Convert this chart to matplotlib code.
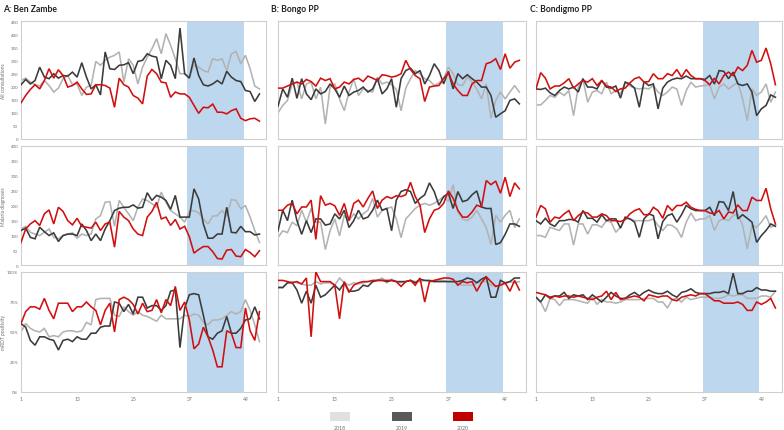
import matplotlib
matplotlib.use("Agg")
import matplotlib.pyplot as plt
from matplotlib.patches import Rectangle

plt.rcParams['font.family'] = ['Lato', 'DejaVu Sans']

weeks = list(range(1, 53))
x_ticks = [1, 13, 25, 37, 49]
years = ["2018", "2019", "2020"]
panel_titles = ["A: Ben Zambe", "B: Bongo PP", "C: Bondigmo PP"]
row_labels = ["All consultations", "Malaria diagnoses", "mRDT positivity"]

# ---- A: Ben Zambe ----
a1_2018 = [223,232,217,207,202,223,204,179,194,230, 242,207,210,166,198,204,296,281,300,312,
           319,332,217,306,281,210,274,312,344,383, 325,402,357,306,249,249,236,281,274,261,
           255,306,300,306,261,325,334,287,319,268, 202,191]
a1_2019 = [207,227,210,223,274,236,230,249,232,242, 240,255,236,291,236,191,207,168,332,268,
           265,281,283,291,249,296,300,325,316,312, 230,300,281,230,423,249,232,309,242,207,
           202,210,223,210,258,236,223,219,185,181, 143,172]
a1_2020 = [138,166,189,207,191,223,268,232,264,242, 198,204,217,191,170,172,207,207,204,194,
           121,232,207,198,166,156,134,240,265,249, 217,214,159,179,172,172,159,128,98,121,
           119,133,102,102,96,108,115,79,70,77, 79,68]

a2_2018 = [121,130,110,104,99,110,121,93,88,99, 104,108,90,104,99,104,155,166,211,213,
           130,217,194,172,149,194,222,217,206,194, 245,211,183,172,161,144,180,183,175,155,
           138,164,166,183,164,220,217,189,200,161, 116,76]
a2_2019 = [116,124,93,88,127,112,99,108,79,99, 104,104,99,138,116,82,104,82,121,149,
           183,191,194,194,202,191,194,243,217,234, 228,217,187,234,161,161,161,256,222,138,
           90,90,104,104,194,110,108,130,112,112, 101,104]
a2_2020 = [76,121,138,149,133,172,185,138,194,180, 149,135,157,130,127,124,144,116,138,144,
           60,180,161,149,121,104,99,161,180,211, 155,161,133,153,121,130,95,40,52,62,
           62,45,22,20,50,52,30,28,52,42, 28,48]

a3_2018 = [50,57,53,51,50,53,46,47,46,50, 51,51,50,51,58,56,77,78,78,78,
           64,63,71,67,64,67,64,63,61,59, 64,61,61,61,61,64,63,65,64,58,
           56,60,60,61,64,67,65,67,77,68, 56,42]
a3_2019 = [57,54,43,39,46,46,44,43,35,43, 44,42,46,44,44,49,49,54,55,55,
           75,74,67,73,65,79,79,70,72,72, 68,72,84,85,37,70,81,82,81,64,
           46,44,49,51,63,49,49,53,60,61, 71,61]
a3_2020 = [57,67,71,71,69,78,68,61,74,74, 74,67,71,71,75,71,68,56,68,74,
           50,77,79,77,73,65,74,67,68,77, 66,77,72,88,68,75,60,36,40,54,
           46,35,21,21,51,49,37,37,70,51, 43,67]

# ---- B: Bongo PP ----
b1_2018 = [99,128,147,210,217,153,210,217,153,198, 57,198,210,153,108,179,230,166,191,185,
           179,236,210,217,207,189,108,194,230,261, 249,230,223,204,213,230,274,249,207,204,
           236,217,191,153,210,79,147,179,153,179, 204,179]
b1_2019 = [125,191,159,232,155,230,172,150,191,172, 181,210,191,159,202,166,179,185,198,179,
           191,230,172,191,230,121,230,261,270,249, 261,210,242,287,261,210,258,191,249,230,
           245,230,217,198,198,166,83,96,108,147, 153,134]
b1_2020 = [194,194,202,210,217,210,227,219,202,232, 223,230,191,198,217,210,227,232,219,240,
           232,223,245,242,236,240,249,300,265,242, 230,143,198,202,204,230,253,210,185,166,
           166,210,223,223,287,293,306,265,325,270, 293,300]

b2_2018 = [92,115,109,144,132,184,144,190,144,144, 52,115,155,98,167,149,172,155,172,184,
           224,161,184,190,195,155,92,155,172,190, 201,207,201,207,218,230,213,270,178,155,
           149,161,184,155,126,69,167,144,167,184, 126,155]
b2_2019 = [115,184,149,218,149,103,149,109,155,155, 134,138,172,155,184,126,149,184,155,161,
           184,218,184,190,115,218,247,253,247,207, 224,236,276,247,201,230,241,190,247,213,
           218,236,249,195,190,190,69,75,103,138, 138,130]
b2_2020 = [184,184,201,207,172,195,195,218,86,233, 201,207,199,167,207,149,207,218,195,224,
           249,190,218,230,224,233,230,236,278,230, 201,109,155,184,190,207,249,224,184,161,
           161,178,201,195,284,270,282,241,295,230, 276,256]

b3_2018 = [88,87,91,92,91,90,89,89,92,90, 91,91,89,95,91,89,91,90,91,92,
           92,93,95,91,94,92,91,92,93,92, 92,93,92,92,93,93,92,92,90,89,
           89,89,91,92,92,89,88,89,90,92, 91,92]
b3_2019 = [87,87,91,91,85,74,84,74,89,79, 81,85,89,85,91,84,84,85,89,88,
           92,93,93,92,93,92,92,92,93,91, 94,93,93,92,92,92,92,92,92,93,
           95,94,91,94,96,79,79,93,91,92, 95,95]
b3_2020 = [93,93,92,91,92,90,95,46,100,92, 92,92,89,61,92,83,89,91,92,92,
           93,93,93,93,93,92,88,92,93,89, 95,75,92,93,94,95,95,94,89,92,
           91,92,84,91,96,92,88,89,91,84, 93,85]

# ---- C: Bondigmo PP ----
c1_2018 = [130,130,147,166,159,179,166,185,89,198, 230,140,179,185,172,217,172,185,172,217,
           202,194,191,194,191,204,179,166,179,198, 191,128,185,217,198,202,204,207,153,198,
           210,191,204,217,153,70,191,166,179,210, 140,179]
c1_2019 = [191,189,194,176,166,185,198,191,198,179, 230,198,198,191,223,198,194,202,156,217,
           210,194,121,219,204,210,115,194,217,227, 232,230,240,230,230,230,227,242,210,261,
           258,230,255,210,204,210,179,89,115,128, 168,159]
c1_2020 = [191,253,232,191,202,202,214,230,194,210, 223,217,230,204,223,202,198,181,191,194,
           214,230,236,217,219,249,230,230,249,242, 265,236,265,242,230,230,223,207,232,210,
           242,255,242,274,261,281,338,293,300,347, 287,207]

c2_2018 = [99,99,93,127,121,116,138,138,67,138, 138,104,135,135,127,149,144,110,127,155,
           155,149,149,149,149,155,133,116,135,133, 121,93,144,175,149,155,155,166,116,149,
           155,149,166,172,133,54,133,127,144,166, 127,135]
c2_2019 = [149,138,157,138,130,149,149,153,153,144, 183,157,157,144,169,149,155,155,124,161,
           155,144,93,155,172,166,88,146,166,172, 144,169,200,189,183,183,183,194,166,213,
           211,183,247,155,169,157,144,76,99,116, 138,130]
c2_2020 = [161,200,189,144,161,157,172,183,149,166, 178,175,161,161,172,166,149,149,146,153,
           172,183,189,169,169,194,183,157,200,183, 200,200,211,194,187,183,183,175,172,183,
           155,178,175,202,183,183,228,217,217,258, 189,138]

c3_2018 = [79,75,67,78,77,72,77,77,77,76, 75,74,79,73,77,75,75,74,75,77,
           77,77,77,78,78,78,75,75,70,77, 78,75,79,77,78,79,79,79,78,78,
           79,81,80,81,81,78,78,78,80,80, 79,84]
c3_2019 = [79,75,81,79,80,80,83,78,81,80, 81,77,81,78,75,79,83,80,78,78,
           81,83,80,83,85,83,82,82,84,81, 79,83,84,86,83,82,82,82,83,83,
           84,82,99,82,82,84,84,87,85,85, 84,84]
c3_2020 = [83,82,81,78,80,79,80,80,79,80, 79,78,77,79,80,84,77,83,77,78,
           79,80,79,76,81,80,79,80,80,77, 76,79,80,81,80,82,82,79,76,76,
           74,74,74,75,73,68,68,75,73,75, 78,70]

grid = [
    [(a1_2018, a1_2019, a1_2020), (b1_2018, b1_2019, b1_2020), (c1_2018, c1_2019, c1_2020)],
    [(a2_2018, a2_2019, a2_2020), (b2_2018, b2_2019, b2_2020), (c2_2018, c2_2019, c2_2020)],
    [(a3_2018, a3_2019, a3_2020), (b3_2018, b3_2019, b3_2020), (c3_2018, c3_2019, c3_2020)],
]

line_colors = ["#b3b3b3", "#3b3b3b", "#d10f0f"]
legend_colors = ["#e0e0e0", "#595959", "#c00000"]
shade_color = "#bdd7ee"
spine_color = "#cfcfcf"
text_gray = "#6f6f6f"

W, H = 784, 431
fig = plt.figure(figsize=(W / 100, H / 100), dpi=100)

col_px = [(21, 266), (278, 526), (536, 782)]
row_px = [(22, 140), (147, 266), (273, 393)]
y_max = [450, 400, 100]
y_step = [50, 50, 25]

for r in range(3):
    for c in range(3):
        x0, x1 = col_px[c]
        t, b = row_px[r]
        ax = fig.add_axes([x0 / W, 1 - b / H, (x1 - x0) / W, (b - t) / H])
        ax.axvspan(36.5, 48.6, color=shade_color, lw=0, zorder=0)
        for k in range(3):
            ax.plot(weeks, grid[r][c][k], color=line_colors[k], lw=1.15, zorder=2 + k,
                    solid_joinstyle='miter')
        ax.set_xlim(1, 53.4)
        ax.set_ylim(0, y_max[r])
        for s in ax.spines.values():
            s.set_color(spine_color)
            s.set_linewidth(0.8)
        ax.set_xticks(x_ticks)
        if r == 2:
            ax.set_xticklabels([str(v) for v in x_ticks], fontsize=3.6, color=text_gray)
        else:
            ax.set_xticklabels([])
        ax.tick_params(axis='x', length=0, pad=3)
        yt = list(range(0, y_max[r] + 1, y_step[r]))
        ax.set_yticks(yt)
        if c == 0:
            if r == 2:
                ax.set_yticklabels([f"{v}%" for v in yt], fontsize=3.2, color=text_gray)
            else:
                ax.set_yticklabels([str(v) for v in yt], fontsize=3.2, color=text_gray)
            ax.set_ylabel(row_labels[r], fontsize=3.5, color=text_gray)
            ax.yaxis.set_label_coords(-0.062, 0.5)
        else:
            ax.set_yticklabels([])
        ax.tick_params(axis='y', length=0, pad=2)

title_x = [3, 271, 530]
for c in range(3):
    fig.text(title_x[c] / W, 1 - 9 / H, panel_titles[c], fontsize=6.2, fontweight='bold',
             color="#222222", ha='left', va='center')

patch_x = [330, 392, 453]
for k in range(3):
    fig.add_artist(Rectangle((patch_x[k] / W, 1 - 422 / H), 20 / W, 9 / H,
                             transform=fig.transFigure, facecolor=legend_colors[k],
                             edgecolor='none'))
    fig.text((patch_x[k] + 10) / W, 1 - 429 / H, years[k], fontsize=3.8, color=text_gray,
             ha='center', va='center')

fig.savefig("out.png", dpi=100)
